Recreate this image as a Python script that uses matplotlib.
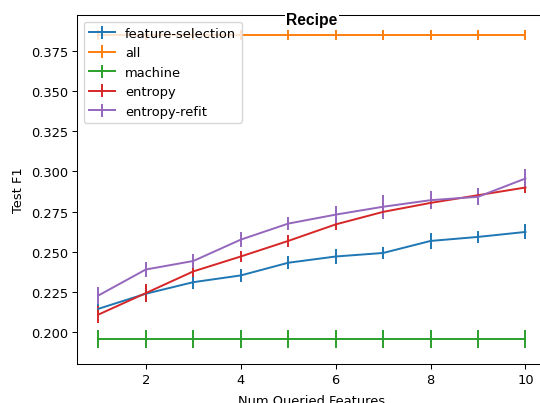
import matplotlib
matplotlib.use("Agg")
import matplotlib.pyplot as plt

num_features = [1, 2, 3, 4, 5, 6, 7, 8, 9, 10]

series_names = ["feature-selection", "all", "machine", "entropy", "entropy-refit"]

feature_selection = [0.2144, 0.2238, 0.2310, 0.2352, 0.2431, 0.2470, 0.2492, 0.2567, 0.2592, 0.2623]
feature_selection_err = [0.0030, 0.0049, 0.0042, 0.0040, 0.0042, 0.0045, 0.0036, 0.0050, 0.0039, 0.0047]

all_features = [0.3850] * 10
all_features_err = [0.0030] * 10

machine = [0.1956] * 10
machine_err = [0.0055] * 10

entropy = [0.2108, 0.2242, 0.2377, 0.2470, 0.2567, 0.2670, 0.2748, 0.2804, 0.2852, 0.2900]
entropy_err = [0.0052, 0.0054, 0.0034, 0.0036, 0.0036, 0.0034, 0.0032, 0.0030, 0.0032, 0.0033]

entropy_refit = [0.2227, 0.2389, 0.2442, 0.2575, 0.2675, 0.2731, 0.2780, 0.2821, 0.2842, 0.2956]
entropy_refit_err = [0.0052, 0.0046, 0.0044, 0.0045, 0.0039, 0.0052, 0.0075, 0.0055, 0.0054, 0.0057]

values = [feature_selection, all_features, machine, entropy, entropy_refit]
errors = [feature_selection_err, all_features_err, machine_err, entropy_err, entropy_refit_err]

DPI = 93.75
fig = plt.figure(figsize=(540 / DPI, 404 / DPI), dpi=DPI)
ax = fig.add_axes([0.1426, 0.0965, 0.870, 0.8639])

for name, v, e in zip(series_names, values, errors):
    ax.errorbar(num_features, v, yerr=e, label=name)

ax.set_ylim(0.18, 0.3975)
ax.set_xticks([2, 4, 6, 8, 10])
ax.set_xlabel("Num Queried Features", labelpad=5.5)
ax.set_ylabel("Test F1")
ax.spines["right"].set_visible(False)
ax.legend(loc="upper left")
ax.text(0.5, 0.986, "Recipe", transform=ax.transAxes, ha="center", va="center",
        fontsize=12, fontweight="bold", family="Liberation Sans",
        bbox=dict(facecolor="white", edgecolor="none", pad=1.0))

fig.savefig("out.png", dpi=DPI)
